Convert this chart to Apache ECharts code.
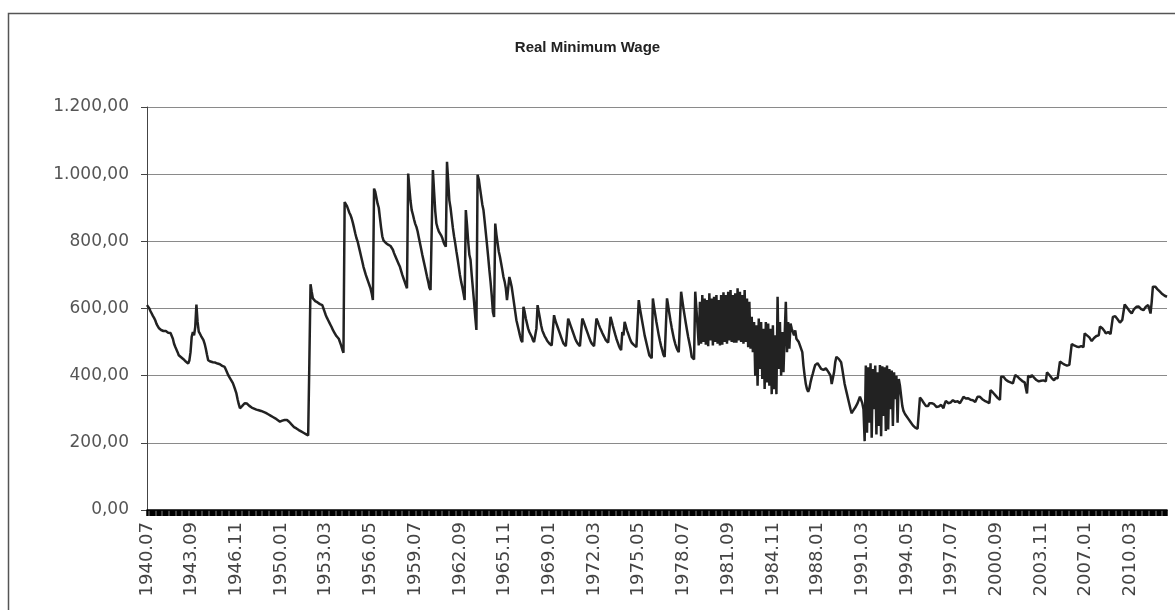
<!DOCTYPE html>
<html>
<head>
<meta charset="utf-8">
<script src="https://cdn.jsdelivr.net/npm/echarts@6/dist/echarts.min.js"></script>
<style>
html,body{margin:0;padding:0;background:#fff;}
#chart{width:1175px;height:610px;}
</style>
</head>
<body>
<div id="chart"></div>
<script>
// ---- Data (monthly real minimum wage) ----
const chartTitle = 'Real Minimum Wage';
const startYear = 1940;
const startMonth = 7;
const labelEvery = 38; // months between x-axis labels
const yTickLabels = ['0,00', '200,00', '400,00', '600,00', '800,00', '1.000,00', '1.200,00'];

// 1940.07 - 1954.06
const wage1940to1954 = [
  610,605,600,592,585,578,572,565,555,548,542,538,
  536,535,533,531,533,530,528,530,527,525,510,495,
  486,478,470,461,458,455,452,449,445,442,438,436,
  445,470,516,530,520,545,612,560,531,525,518,512,
  506,495,480,462,446,444,442,441,440,438,439,437,
  436,437,434,431,429,427,426,418,410,402,396,390,
  387,378,368,358,347,330,315,303,305,310,314,318,
  318,317,313,310,307,305,303,302,300,299,298,297,
  296,295,293,292,290,289,288,285,283,281,279,277,
  275,273,270,268,265,263,264,266,267,268,268,268,
  267,262,258,254,250,247,245,243,240,238,236,234,
  232,230,228,226,224,222,440,672,650,630,625,622,
  620,618,616,613,611,610,600,590,580,572,565,558,
  551,544,536,530,524,518,514,510,505,490,478,468
];
// 1954.07 - 1969.06
const wage1954to1969 = [
  917,912,905,895,885,878,868,855,840,824,810,800,
  785,770,755,740,724,712,700,690,680,670,660,645,
  625,957,948,930,912,900,870,840,815,803,798,795,
  792,790,788,786,784,775,765,756,748,740,732,724,
  712,700,690,680,670,660,1002,960,920,893,880,865,
  852,843,830,812,795,778,760,744,728,712,695,680,
  662,655,650,1012,950,890,853,840,830,825,818,810,
  798,790,784,1037,980,922,900,870,840,815,794,770,
  748,724,700,680,664,645,625,893,850,800,760,745,
  700,660,620,575,536,998,985,960,935,910,893,860,
  825,790,754,715,680,640,590,575,853,820,795,770,
  754,735,715,694,680,660,625,660,694,680,664,640,
  615,590,565,550,535,520,506,500,605,590,570,555,
  540,530,526,516,506,500,498,540,610,590,570,550,
  535,526,518,512,505,500,496,493,490,488,580,565
];
// 1969.07 - 1979.06
const wage1969to1979 = [
  555,545,535,525,515,505,496,492,488,485,570,560,
  550,540,530,520,510,502,496,491,488,485,570,562,
  552,542,532,522,512,503,496,491,488,486,570,562,
  552,543,535,527,520,513,506,501,498,495,575,562,
  548,535,522,510,500,490,482,476,530,520,560,548,
  535,525,515,505,498,493,491,488,485,482,625,600,
  580,560,540,520,505,490,475,460,456,452,630,605,
  582,560,540,520,503,488,475,462,456,452,630,608,
  585,563,543,525,508,495,484,476,470,465,650,625,
  600,578,556,535,515,498,480,456,452,448,650,600
];
// 1979.07 - 1991.06
const wage1979to1991 = [
  600,490,620,495,640,500,630,492,625,488,645,505,
  630,490,635,500,640,495,625,490,640,492,648,500,
  640,495,650,505,655,500,640,498,645,498,660,505,
  650,500,640,495,655,500,630,485,620,480,575,470,
  560,400,550,370,570,420,560,390,540,360,560,380,
  555,370,540,345,550,360,520,345,635,420,560,400,
  530,410,520,620,470,560,480,555,540,530,520,535,
  510,505,500,490,486,470,430,400,375,360,352,362,
  380,395,407,420,432,437,437,432,426,420,418,417,
  415,422,418,412,410,400,375,372,410,440,456,456,
  450,446,440,420,397,375,360,345,330,315,300,288,
  295,300,305,307,318,328,337,328,318,300,205,430
];
// 1991.07 - 2001.06
const wage1991to2001 = [
  230,425,260,437,215,420,300,430,225,410,250,432,
  220,428,280,425,235,430,240,420,300,415,250,410,
  330,400,260,390,370,340,310,295,288,282,278,272,
  268,262,258,252,248,245,243,242,240,335,332,326,
  320,315,310,305,310,318,315,318,322,315,310,307,
  305,308,312,313,310,303,316,325,322,318,315,320,
  325,327,325,322,327,324,320,318,322,330,337,335,
  332,337,333,330,328,326,327,325,322,320,337,335,
  337,333,330,327,325,323,322,320,318,357,355,350,
  346,342,337,334,331,328,397,395,397,392,388,385
];
// 2001.07 - 2012.10
const wage2001to2012 = [
  383,382,380,378,377,376,402,400,397,393,390,386,
  384,382,380,378,347,400,398,395,402,398,394,390,
  387,385,383,382,385,388,386,384,383,410,407,402,
  398,393,388,386,392,395,392,390,442,440,437,435,
  433,432,430,434,432,430,494,492,490,488,487,486,
  485,490,488,486,485,526,524,520,517,514,510,503,
  508,512,515,518,521,520,546,544,541,537,532,526,
  528,530,527,524,521,575,580,577,572,568,563,558,
  562,566,570,612,608,603,598,593,589,585,592,598,
  603,605,610,606,602,598,596,595,600,605,608,610,
  598,585,620,665,662,665,660,657,655,650,646,643,
  640,638,636,635
];

const wage = [].concat(wage1940to1954, wage1954to1969, wage1969to1979,
                       wage1979to1991, wage1991to2001, wage2001to2012);

// month labels "YYYY.MM"
const months = [];
for (let k = 0; k < wage.length; k++) {
  const m0 = startMonth - 1 + k;
  const y = startYear + Math.floor(m0 / 12);
  const m = (m0 % 12) + 1;
  months.push(y + '.' + (m < 10 ? '0' + m : m));
}

const chart = echarts.init(document.getElementById('chart'), null, {renderer: 'canvas'});
chart.setOption({
  animation: false,
  backgroundColor: '#ffffff',
  title: {
    text: chartTitle,
    left: 'center',
    top: 35,
    textStyle: {fontFamily: 'Liberation Sans', fontSize: 15, fontWeight: 'bold', color: '#222'}
  },
  graphic: [{
    type: 'rect',
    z: -1,
    silent: true,
    shape: {x: 8.5, y: 13.5, width: 1300, height: 800},
    style: {fill: 'none', stroke: '#555', lineWidth: 1.5}
  }],
  grid: {left: 147, right: 8, top: 107, bottom: 100, containLabel: false},
  xAxis: {
    type: 'category',
    data: months,
    boundaryGap: false,
    axisLine: {show: true, lineStyle: {color: '#000', width: 1.5}},
    axisTick: {show: true, interval: 0, length: 6, lineStyle: {color: '#000', width: 1.5}},
    axisLabel: {
      interval: labelEvery - 1,
      rotate: 90,
      margin: 12,
      fontFamily: 'DejaVu Sans',
      fontSize: 18,
      color: '#444'
    },
    splitLine: {show: false}
  },
  yAxis: {
    type: 'value',
    min: 0,
    max: 1200,
    interval: 200,
    axisLine: {show: true, lineStyle: {color: '#444', width: 1}},
    axisTick: {show: true, length: 6, lineStyle: {color: '#444'}},
    axisLabel: {
      margin: 18,
      fontFamily: 'DejaVu Sans',
      fontSize: 17,
      color: '#555',
      formatter: function (v) { return yTickLabels[Math.round(v / 200)]; }
    },
    splitLine: {show: true, lineStyle: {color: '#8a8a8a', width: 1}}
  },
  series: [{
    type: 'line',
    data: wage,
    showSymbol: false,
    symbol: 'none',
    lineStyle: {color: '#222', width: 2.5},
    sampling: false
  }]
});
</script>
</body>
</html>
